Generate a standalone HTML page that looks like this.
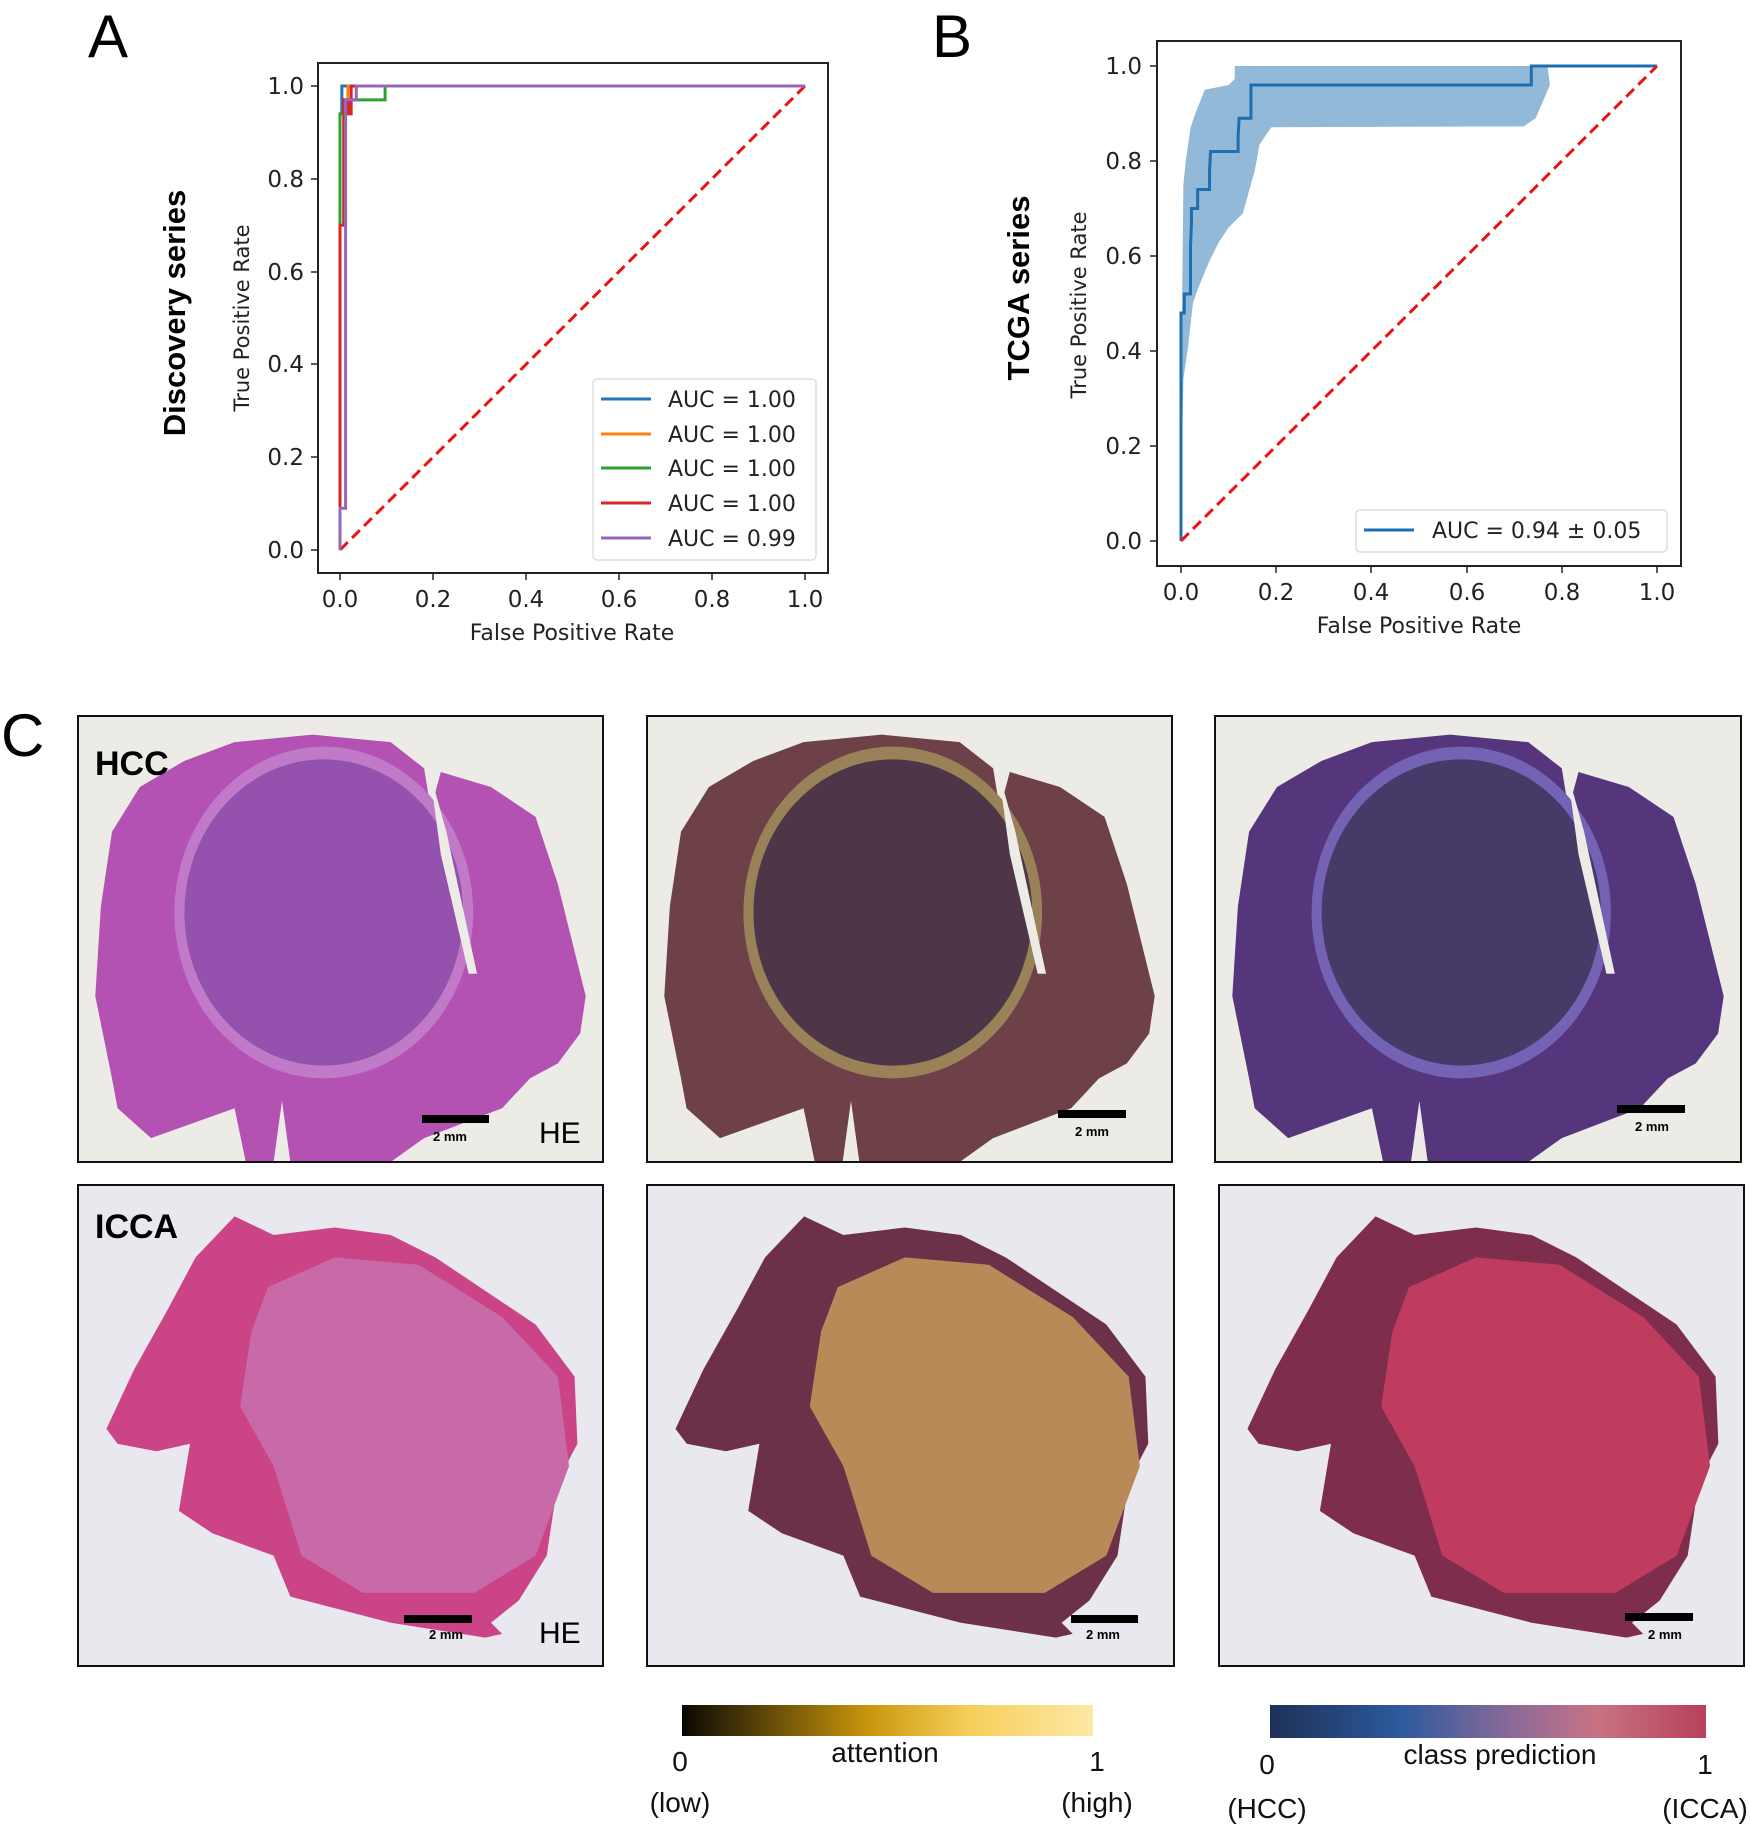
<!DOCTYPE html>
<html><head><meta charset="utf-8"><style>
html,body{margin:0;padding:0;background:#fff;}
svg{display:block;}
</style></head><body>
<svg width="1750" height="1824" viewBox="0 0 1750 1824" xmlns="http://www.w3.org/2000/svg" font-family="'DejaVu Sans', sans-serif">
<defs>
<linearGradient id="gAtt" x1="0" x2="1" y1="0" y2="0">
<stop offset="0" stop-color="#0a0804"/><stop offset="0.45" stop-color="#c8960c"/><stop offset="0.7" stop-color="#f6cf5a"/><stop offset="1" stop-color="#fde8a6"/>
</linearGradient>
<linearGradient id="gCls" x1="0" x2="1" y1="0" y2="0">
<stop offset="0" stop-color="#1e3158"/><stop offset="0.3" stop-color="#2c5a9e"/><stop offset="0.55" stop-color="#8a6a98"/><stop offset="0.75" stop-color="#c87284"/><stop offset="1" stop-color="#b8405c"/>
</linearGradient>
</defs>

<!-- Panel A -->
<text x="88" y="57" font-family="'Liberation Sans',sans-serif" font-size="60">A</text>
<text transform="translate(185,313) rotate(-90)" text-anchor="middle" font-family="'Liberation Sans',sans-serif" font-weight="bold" font-size="31">Discovery series</text>
<text transform="translate(249,318) rotate(-90)" text-anchor="middle" font-size="21" fill="#222">True Positive Rate</text>
<rect x="318" y="63" width="510" height="510" fill="none" stroke="#222" stroke-width="2"/>
<g stroke="#222" stroke-width="1.5">
<line x1="311" y1="550" x2="318" y2="550"/><line x1="311" y1="457" x2="318" y2="457"/><line x1="311" y1="364" x2="318" y2="364"/><line x1="311" y1="272" x2="318" y2="272"/><line x1="311" y1="179" x2="318" y2="179"/><line x1="311" y1="86" x2="318" y2="86"/>
<line x1="340" y1="573" x2="340" y2="580"/><line x1="433" y1="573" x2="433" y2="580"/><line x1="526" y1="573" x2="526" y2="580"/><line x1="619" y1="573" x2="619" y2="580"/><line x1="712" y1="573" x2="712" y2="580"/><line x1="805" y1="573" x2="805" y2="580"/>
</g>
<g font-size="23" fill="#222" text-anchor="end">
<text x="304" y="558">0.0</text><text x="304" y="465">0.2</text><text x="304" y="372">0.4</text><text x="304" y="280">0.6</text><text x="304" y="187">0.8</text><text x="304" y="94">1.0</text>
</g>
<g font-size="23" fill="#222" text-anchor="middle">
<text x="340" y="607">0.0</text><text x="433" y="607">0.2</text><text x="526" y="607">0.4</text><text x="619" y="607">0.6</text><text x="712" y="607">0.8</text><text x="805" y="607">1.0</text>
<text x="572" y="640" font-size="22">False Positive Rate</text>
</g>
<line x1="340" y1="550" x2="805" y2="86" stroke="#ee1111" stroke-width="3" stroke-dasharray="11,6"/>
<g transform="translate(340,550) scale(465,-464)" fill="none" stroke-width="3">
<polyline vector-effect="non-scaling-stroke" stroke="#1f77b4" points="0,0 0,0.94 0.004,0.94 0.004,1 1,1"/>
<polyline vector-effect="non-scaling-stroke" stroke="#ff7f0e" points="0,0 0,0.94 0.01,0.94 0.01,0.97 0.017,0.97 0.017,1 1,1"/>
<polyline vector-effect="non-scaling-stroke" stroke="#2ca02c" points="0,0 0,0.94 0.01,0.94 0.01,0.97 0.097,0.97 0.097,1 1,1"/>
<polyline vector-effect="non-scaling-stroke" stroke="#d62728" points="0,0 0,0.7 0.008,0.7 0.008,0.97 0.018,0.97 0.018,0.94 0.024,0.94 0.024,1 1,1"/>
<polyline vector-effect="non-scaling-stroke" stroke="#9467bd" points="0,0 0,0.09 0.012,0.09 0.012,0.97 0.035,0.97 0.035,1 1,1"/>
</g>
<rect x="593" y="379" width="223" height="181" rx="4" fill="#fff" stroke="#ddd" stroke-width="1.5"/>
<g stroke-width="3">
<line x1="601" y1="399" x2="651" y2="399" stroke="#1f77b4"/>
<line x1="601" y1="434" x2="651" y2="434" stroke="#ff7f0e"/>
<line x1="601" y1="468" x2="651" y2="468" stroke="#2ca02c"/>
<line x1="601" y1="503" x2="651" y2="503" stroke="#d62728"/>
<line x1="601" y1="538" x2="651" y2="538" stroke="#9467bd"/>
</g>
<g font-size="22" fill="#222">
<text x="668" y="407">AUC = 1.00</text><text x="668" y="442">AUC = 1.00</text><text x="668" y="476">AUC = 1.00</text><text x="668" y="511">AUC = 1.00</text><text x="668" y="546">AUC = 0.99</text>
</g>

<!-- Panel B -->
<text x="932" y="57" font-family="'Liberation Sans',sans-serif" font-size="60">B</text>
<text transform="translate(1029,288) rotate(-90)" text-anchor="middle" font-family="'Liberation Sans',sans-serif" font-weight="bold" font-size="31">TCGA series</text>
<text transform="translate(1086,305) rotate(-90)" text-anchor="middle" font-size="21" fill="#222">True Positive Rate</text>
<g transform="translate(1181,541) scale(476,-475)">
<polygon fill="#92bad8" points="0,0 0,0.3 0.005,0.75 0.01,0.8 0.02,0.87 0.03,0.9 0.05,0.95 0.1,0.96 0.113,0.973 0.113,1 0.77,1 0.775,0.96 0.76,0.925 0.745,0.89 0.72,0.873 0.19,0.871 0.165,0.835 0.155,0.78 0.13,0.69 0.1,0.66 0.08,0.63 0.06,0.59 0.035,0.53 0.025,0.5 0.015,0.41 0.005,0.34 0.002,0.2"/>
<polyline vector-effect="non-scaling-stroke" fill="none" stroke="#1f6fb0" stroke-width="3" points="0,0 0,0.48 0.007,0.48 0.007,0.52 0.02,0.52 0.02,0.62 0.022,0.67 0.022,0.7 0.035,0.7 0.035,0.74 0.06,0.74 0.06,0.78 0.062,0.82 0.12,0.82 0.12,0.85 0.122,0.89 0.147,0.89 0.147,0.96 0.736,0.96 0.736,1 1,1"/>
</g>
<line x1="1181" y1="541" x2="1657" y2="66" stroke="#ee1111" stroke-width="3" stroke-dasharray="11,6"/>
<rect x="1157" y="41" width="524" height="525" fill="none" stroke="#222" stroke-width="2"/>
<g stroke="#222" stroke-width="1.5">
<line x1="1150" y1="541" x2="1157" y2="541"/><line x1="1150" y1="446" x2="1157" y2="446"/><line x1="1150" y1="351" x2="1157" y2="351"/><line x1="1150" y1="256" x2="1157" y2="256"/><line x1="1150" y1="161" x2="1157" y2="161"/><line x1="1150" y1="66" x2="1157" y2="66"/>
<line x1="1181" y1="566" x2="1181" y2="573"/><line x1="1276" y1="566" x2="1276" y2="573"/><line x1="1371" y1="566" x2="1371" y2="573"/><line x1="1467" y1="566" x2="1467" y2="573"/><line x1="1562" y1="566" x2="1562" y2="573"/><line x1="1657" y1="566" x2="1657" y2="573"/>
</g>
<g font-size="23" fill="#222" text-anchor="end">
<text x="1142" y="549">0.0</text><text x="1142" y="454">0.2</text><text x="1142" y="359">0.4</text><text x="1142" y="264">0.6</text><text x="1142" y="169">0.8</text><text x="1142" y="74">1.0</text>
</g>
<g font-size="23" fill="#222" text-anchor="middle">
<text x="1181" y="600">0.0</text><text x="1276" y="600">0.2</text><text x="1371" y="600">0.4</text><text x="1467" y="600">0.6</text><text x="1562" y="600">0.8</text><text x="1657" y="600">1.0</text>
<text x="1419" y="633" font-size="22">False Positive Rate</text>
</g>
<rect x="1356" y="510" width="311" height="42" rx="4" fill="#fff" stroke="#ddd" stroke-width="1.5"/>
<line x1="1364" y1="530" x2="1414" y2="530" stroke="#1f6fb0" stroke-width="3"/>
<text x="1432" y="538" font-size="22" fill="#222">AUC = 0.94 ± 0.05</text>

<!-- Panel C -->
<text x="1" y="756" font-family="'Liberation Sans',sans-serif" font-size="60">C</text>

<!-- HCC shapes -->
<g id="hcc1">
<svg x="78" y="716" width="525" height="446" viewBox="139 75 942 597" preserveAspectRatio="none">
<rect x="139" y="75" width="942" height="597" fill="#ecebe6"/>
<polygon fill="#b452b4" points="200,230 250,170 330,135 420,110 560,100 700,110 760,145 772,200 790,150 880,170 960,210 1000,300 1050,450 1040,500 1000,540 950,560 900,600 760,640 700,672 520,672 505,590 490,672 440,672 420,600 270,640 210,600 200,560 170,450 180,330"/>
<ellipse cx="580" cy="338" rx="268" ry="222" fill="#c07ac8"/>
<ellipse cx="580" cy="338" rx="250" ry="205" fill="#9452ae"/>
<path d="M770 150 L790 260 L840 420 L855 420 L800 230 Z" fill="#ecebe6"/>
</svg>
</g>
<rect x="78" y="716" width="525" height="446" fill="none" stroke="#111" stroke-width="2"/>

<svg x="647" y="716" width="525" height="446" viewBox="139 75 942 597" preserveAspectRatio="none">
<rect x="139" y="75" width="942" height="597" fill="#ecebe6"/>
<polygon fill="#6e4048" points="200,230 250,170 330,135 420,110 560,100 700,110 760,145 772,200 790,150 880,170 960,210 1000,300 1050,450 1040,500 1000,540 950,560 900,600 760,640 700,672 520,672 505,590 490,672 440,672 420,600 270,640 210,600 200,560 170,450 180,330"/>
<ellipse cx="580" cy="338" rx="268" ry="222" fill="#9a8258"/>
<ellipse cx="580" cy="338" rx="250" ry="205" fill="#4e3648"/>
<path d="M770 150 L790 260 L840 420 L855 420 L800 230 Z" fill="#ecebe6"/>
</svg>
<rect x="647" y="716" width="525" height="446" fill="none" stroke="#111" stroke-width="2"/>

<svg x="1215" y="716" width="526" height="446" viewBox="139 75 942 597" preserveAspectRatio="none">
<rect x="139" y="75" width="942" height="597" fill="#ecebe6"/>
<polygon fill="#55357c" points="200,230 250,170 330,135 420,110 560,100 700,110 760,145 772,200 790,150 880,170 960,210 1000,300 1050,450 1040,500 1000,540 950,560 900,600 760,640 700,672 520,672 505,590 490,672 440,672 420,600 270,640 210,600 200,560 170,450 180,330"/>
<ellipse cx="580" cy="338" rx="268" ry="222" fill="#7462b4"/>
<ellipse cx="580" cy="338" rx="250" ry="205" fill="#463a68"/>
<path d="M770 150 L790 260 L840 420 L855 420 L800 230 Z" fill="#ecebe6"/>
</svg>
<rect x="1215" y="716" width="526" height="446" fill="none" stroke="#111" stroke-width="2"/>

<!-- ICCA shapes -->
<svg x="78" y="1185" width="525" height="481" viewBox="139 703 942 645" preserveAspectRatio="none">
<rect x="139" y="703" width="942" height="645" fill="#e8e8ee"/>
<polygon fill="#cc4488" points="190,1030 240,950 300,870 350,800 420,745 490,770 600,760 700,770 780,800 900,860 960,890 1030,960 1035,1050 1000,1100 980,1200 930,1260 880,1290 900,1305 870,1310 700,1290 520,1255 490,1200 380,1170 320,1140 340,1050 280,1060 210,1050"/>
<polygon fill="#c86aa8" points="480,840 600,800 750,810 900,880 1000,960 1020,1080 960,1200 850,1250 650,1250 540,1200 490,1080 430,1000 450,900"/>
</svg>
<rect x="78" y="1185" width="525" height="481" fill="none" stroke="#111" stroke-width="2"/>

<svg x="647" y="1185" width="527" height="481" viewBox="139 703 942 645" preserveAspectRatio="none">
<rect x="139" y="703" width="942" height="645" fill="#e8e8ee"/>
<polygon fill="#6c3048" points="190,1030 240,950 300,870 350,800 420,745 490,770 600,760 700,770 780,800 900,860 960,890 1030,960 1035,1050 1000,1100 980,1200 930,1260 880,1290 900,1305 870,1310 700,1290 520,1255 490,1200 380,1170 320,1140 340,1050 280,1060 210,1050"/>
<polygon fill="#b88a58" points="480,840 600,800 750,810 900,880 1000,960 1020,1080 960,1200 850,1250 650,1250 540,1200 490,1080 430,1000 450,900"/>
</svg>
<rect x="647" y="1185" width="527" height="481" fill="none" stroke="#111" stroke-width="2"/>

<svg x="1219" y="1185" width="525" height="481" viewBox="139 703 942 645" preserveAspectRatio="none">
<rect x="139" y="703" width="942" height="645" fill="#e8e8ee"/>
<polygon fill="#7e2e4c" points="190,1030 240,950 300,870 350,800 420,745 490,770 600,760 700,770 780,800 900,860 960,890 1030,960 1035,1050 1000,1100 980,1200 930,1260 880,1290 900,1305 870,1310 700,1290 520,1255 490,1200 380,1170 320,1140 340,1050 280,1060 210,1050"/>
<polygon fill="#c03c5e" points="480,840 600,800 750,810 900,880 1000,960 1020,1080 960,1200 850,1250 650,1250 540,1200 490,1080 430,1000 450,900"/>
</svg>
<rect x="1219" y="1185" width="525" height="481" fill="none" stroke="#111" stroke-width="2"/>

<!-- labels -->
<g font-family="'Liberation Sans',sans-serif">
<text x="95" y="775" font-weight="bold" font-size="34">HCC</text>
<text x="95" y="1238" font-weight="bold" font-size="34">ICCA</text>
<text x="539" y="1143" font-size="30">HE</text>
<text x="539" y="1643" font-size="30">HE</text>
<g fill="#000">
<rect x="422" y="1115" width="67" height="8"/><rect x="1058" y="1110" width="68" height="8"/><rect x="1617" y="1105" width="68" height="8"/>
<rect x="404" y="1615" width="68" height="8"/><rect x="1071" y="1615" width="67" height="8"/><rect x="1625" y="1613" width="68" height="8"/>
</g>
<g font-size="13" font-weight="bold" text-anchor="middle">
<text x="450" y="1141">2 mm</text><text x="1092" y="1136">2 mm</text><text x="1652" y="1131">2 mm</text>
<text x="446" y="1639">2 mm</text><text x="1103" y="1639">2 mm</text><text x="1665" y="1639">2 mm</text>
</g>
<!-- colorbars -->
<rect x="682" y="1705" width="411" height="31" fill="url(#gAtt)"/>
<rect x="1270" y="1705" width="436" height="33" fill="url(#gCls)"/>
<g font-size="28" text-anchor="middle" fill="#111">
<text x="680" y="1771">0</text>
<text x="885" y="1762">attention</text>
<text x="1097" y="1771">1</text>
<text x="680" y="1812">(low)</text>
<text x="1097" y="1812">(high)</text>
<text x="1267" y="1774">0</text>
<text x="1500" y="1764">class prediction</text>
<text x="1705" y="1774">1</text>
<text x="1267" y="1818">(HCC)</text>
<text x="1705" y="1818">(ICCA)</text>
</g>
</g>
</svg>
</body></html>
